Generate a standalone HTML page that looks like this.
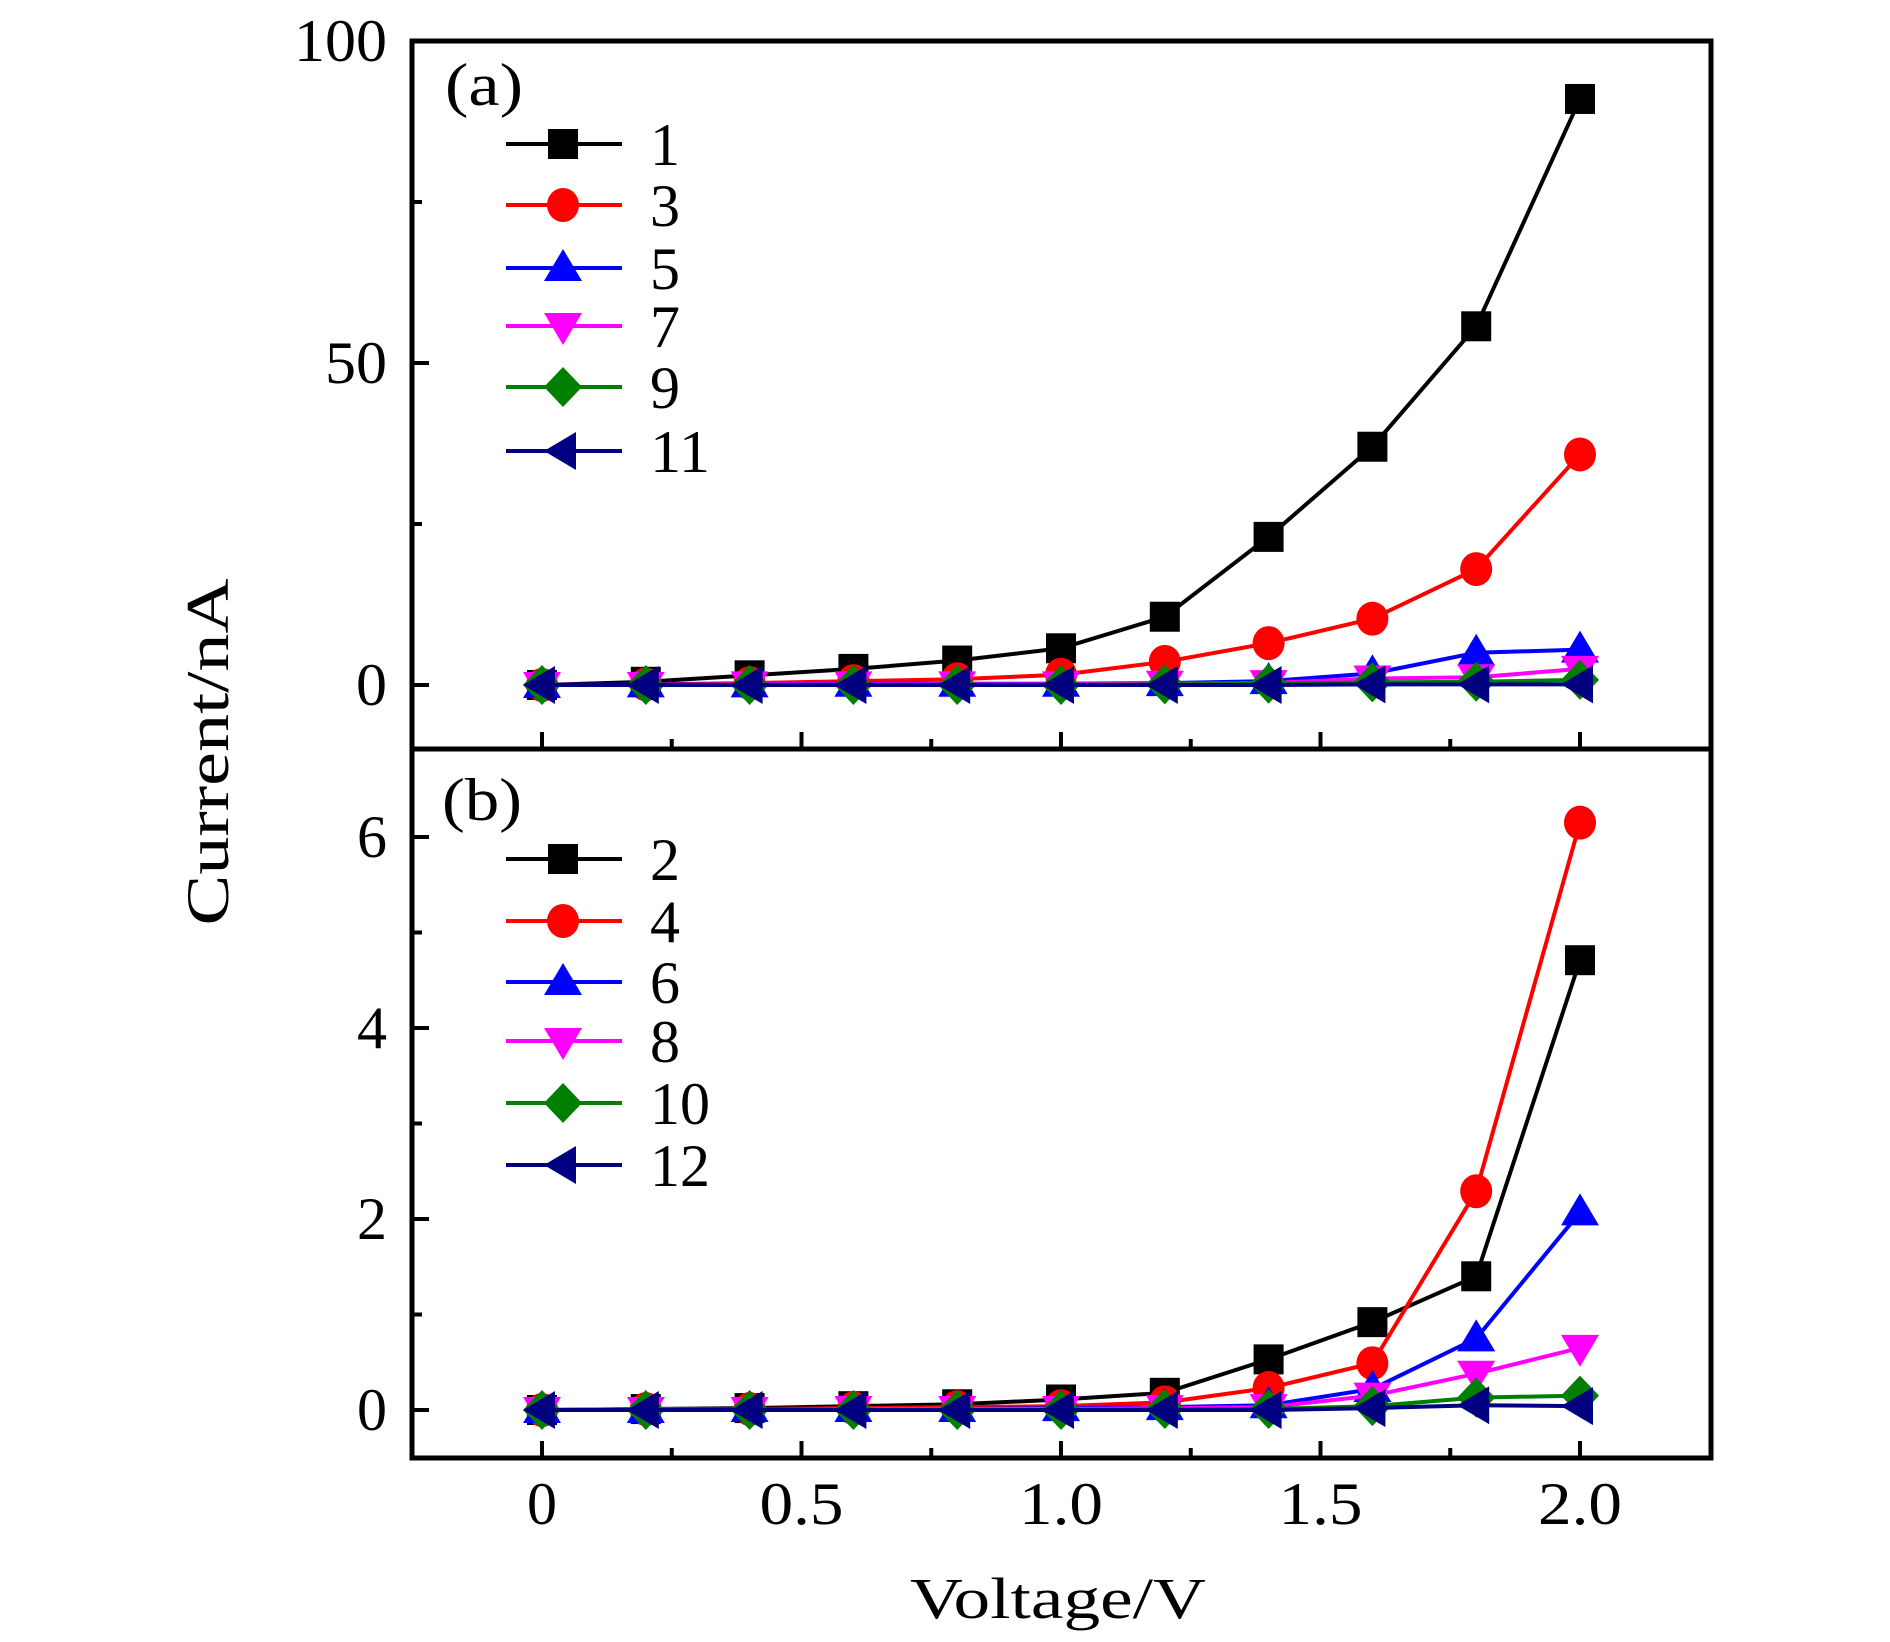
<!DOCTYPE html>
<html><head><meta charset="utf-8"><style>
html,body{margin:0;padding:0;background:#fff;}
svg{display:block;}
text{font-family:"Liberation Serif",serif;fill:#000;}
</style></head><body>
<svg id="chart" width="1890" height="1642" viewBox="0 0 1890 1642" xmlns="http://www.w3.org/2000/svg"></svg>
<script>
const xValues=[0,0.2,0.4,0.6,0.8,1.0,1.2,1.4,1.6,1.8,2.0];
const xTickLabels=["0","0.5","1.0","1.5","2.0"];
const xTickValues=[0,0.5,1.0,1.5,2.0];
const aNames=["1","3","5","7","9","11"];
const a1=[0,0.5,1.5,2.5,3.8,5.7,10.6,23,37,55.7,91];
const a3=[0,0.1,0.3,0.6,0.9,1.6,3.6,6.5,10.3,18,35.8];
const a5=[0,0.1,0.1,0.2,0.2,0.2,0.3,0.6,1.8,5,5.5];
const a7=[0,0,0.1,0.1,0.1,0.1,0.2,0.3,1,1.2,2.5];
const a9=[0,0,0,0,0,0,0.1,0.2,0.4,0.5,0.8];
const a11=[0,0,0,0,0,0,0,0,0.1,0.1,0.1];
const aTickValues=[0,50,100];
const aTickLabels=["0","50","100"];
const bNames=["2","4","6","8","10","12"];
const b2=[0,0.01,0.02,0.04,0.06,0.11,0.18,0.53,0.92,1.4,4.71];
const b4=[0,0.01,0.01,0.02,0.03,0.04,0.08,0.23,0.49,2.29,6.15];
const b6=[0,0,0.01,0.01,0.01,0.02,0.03,0.05,0.22,0.75,2.07];
const b8=[0,0,0,0.01,0.01,0.01,0.02,0.03,0.15,0.38,0.65];
const b10=[0,0,0,0,0,0,0.01,0.01,0.04,0.13,0.15];
const b12=[0,0,0,0,0,0,0,0,0.02,0.05,0.04];
const bTickValues=[0,2,4,6];
const bTickLabels=["0","2","4","6"];

const NS="http://www.w3.org/2000/svg";
const svg=document.getElementById('chart');
const L=412,R=1711,T=41,MID=749,B=1458;
const X=v=>542+v*519;
const YA=v=>685-v*6.44;
const YB=v=>1410-v*95.5;
const colors=["#000000","#ff0000","#0000ff","#ff00ff","#007f00","#000080"];
const shapes=["square","circle","up","down","diamond","left"];
function el(tag,attrs,parent){const e=document.createElementNS(NS,tag);for(const k in attrs)e.setAttribute(k,attrs[k]);(parent||svg).appendChild(e);return e;}
function marker(shape,cx,cy,c,g){
  const s=15;let e;
  if(shape==="square")e=el('rect',{x:cx-s,y:cy-s,width:2*s,height:2*s,fill:c},g);
  else if(shape==="circle")e=el('ellipse',{cx:cx,cy:cy,rx:16,ry:17,fill:c},g);
  else{let p;
    if(shape==="up")p=[[cx,cy-19],[cx+19,cy+13],[cx-19,cy+13]];
    else if(shape==="down")p=[[cx,cy+19],[cx+19,cy-13],[cx-19,cy-13]];
    else if(shape==="diamond")p=[[cx,cy-20],[cx+19,cy],[cx,cy+20],[cx-19,cy]];
    else p=[[cx-19,cy],[cx+13,cy-19],[cx+13,cy+19]];
    e=el('polygon',{points:p.map(q=>q.join(',')).join(' '),fill:c},g);}
  return e;
}
function drawPanel(series,names,Y,tag){
  series.forEach((vals,i)=>{
    const g=el('g',{});
    
    
    el('polyline',{points:vals.map((v,j)=>X(xValues[j])+','+Y(v)).join(' '),fill:'none',stroke:colors[i],'stroke-width':4},g);
    vals.forEach((v,j)=>{const m=marker(shapes[i],X(xValues[j]),Y(v),colors[i],g);
      
      });
  });
}
drawPanel([a1,a3,a5,a7,a9,a11],aNames,YA,'a');
drawPanel([b2,b4,b6,b8,b10,b12],bNames,YB,'b');

const fr=el('rect',{x:L,y:T,width:R-L,height:B-T,fill:'none',stroke:'#000','stroke-width':5});

const dv=el('line',{x1:L,x2:R,y1:MID,y2:MID,stroke:'#000','stroke-width':5});


for(let v=0;v<=2.001;v+=0.25){
  const major=Math.abs(v*2-Math.round(v*2))<1e-6;
  const len=major?17:10;
  el('line',{x1:X(v),x2:X(v),y1:MID,y2:MID-len,stroke:'#000','stroke-width':4});
  el('line',{x1:X(v),x2:X(v),y1:B,y2:B-len,stroke:'#000','stroke-width':4});
}
xTickValues.forEach((v,i)=>{const t=el('text',{x:X(v),y:1524,'font-size':60,'text-anchor':'middle'});t.textContent=xTickLabels[i];
  if(xTickLabels[i].length>1){t.setAttribute('textLength',84);t.setAttribute('lengthAdjust','spacingAndGlyphs');}
  });
[0,25,50,75,100].forEach(v=>{const len=v%50===0?17:10;el('line',{x1:L,x2:L+len,y1:YA(v),y2:YA(v),stroke:'#000','stroke-width':4});});
aTickValues.forEach((v,i)=>{const t=el('text',{x:387,y:YA(v)+20,'font-size':60,'text-anchor':'end'});t.textContent=aTickLabels[i];
  t.setAttribute('textLength',aTickLabels[i].length*31);t.setAttribute('lengthAdjust','spacingAndGlyphs');
  });
[0,1,2,3,4,5,6].forEach(v=>{const len=v%2===0?17:10;el('line',{x1:L,x2:L+len,y1:YB(v),y2:YB(v),stroke:'#000','stroke-width':4});});
bTickValues.forEach((v,i)=>{const t=el('text',{x:387,y:YB(v)+20,'font-size':60,'text-anchor':'end'});t.textContent=bTickLabels[i];
  });

let t=el('text',{x:445,y:105,'font-size':60,textLength:78,lengthAdjust:'spacingAndGlyphs'});t.textContent='(a)';

t=el('text',{x:442,y:820,'font-size':60,textLength:80,lengthAdjust:'spacingAndGlyphs'});t.textContent='(b)';


const legA=[144,205,268,326,387,451], legB=[859,921,982,1041,1103,1165];
function legend(names,rows,tag){
  names.forEach((n,i)=>{const g=el('g',{});
    
    
    el('line',{x1:506,x2:622,y1:rows[i],y2:rows[i],stroke:colors[i],'stroke-width':4},g);
    marker(shapes[i],563,rows[i],colors[i],g);
    const tx=el('text',{x:650,y:rows[i]+21,'font-size':60},g);tx.textContent=n;
    if(n.length>1){tx.setAttribute('textLength',60);tx.setAttribute('lengthAdjust','spacingAndGlyphs');}});
}
legend(aNames,legA,'a');legend(bNames,legB,'b');

t=el('text',{x:1058,y:1618,'font-size':58,'text-anchor':'middle',textLength:296,lengthAdjust:'spacingAndGlyphs'});t.textContent='Voltage/V';

t=el('text',{x:0,y:0,'font-size':60,'text-anchor':'middle',textLength:347,lengthAdjust:'spacingAndGlyphs',transform:'translate(228,752) rotate(-90)'});t.textContent='Current/nA';

</script>
</body></html>
